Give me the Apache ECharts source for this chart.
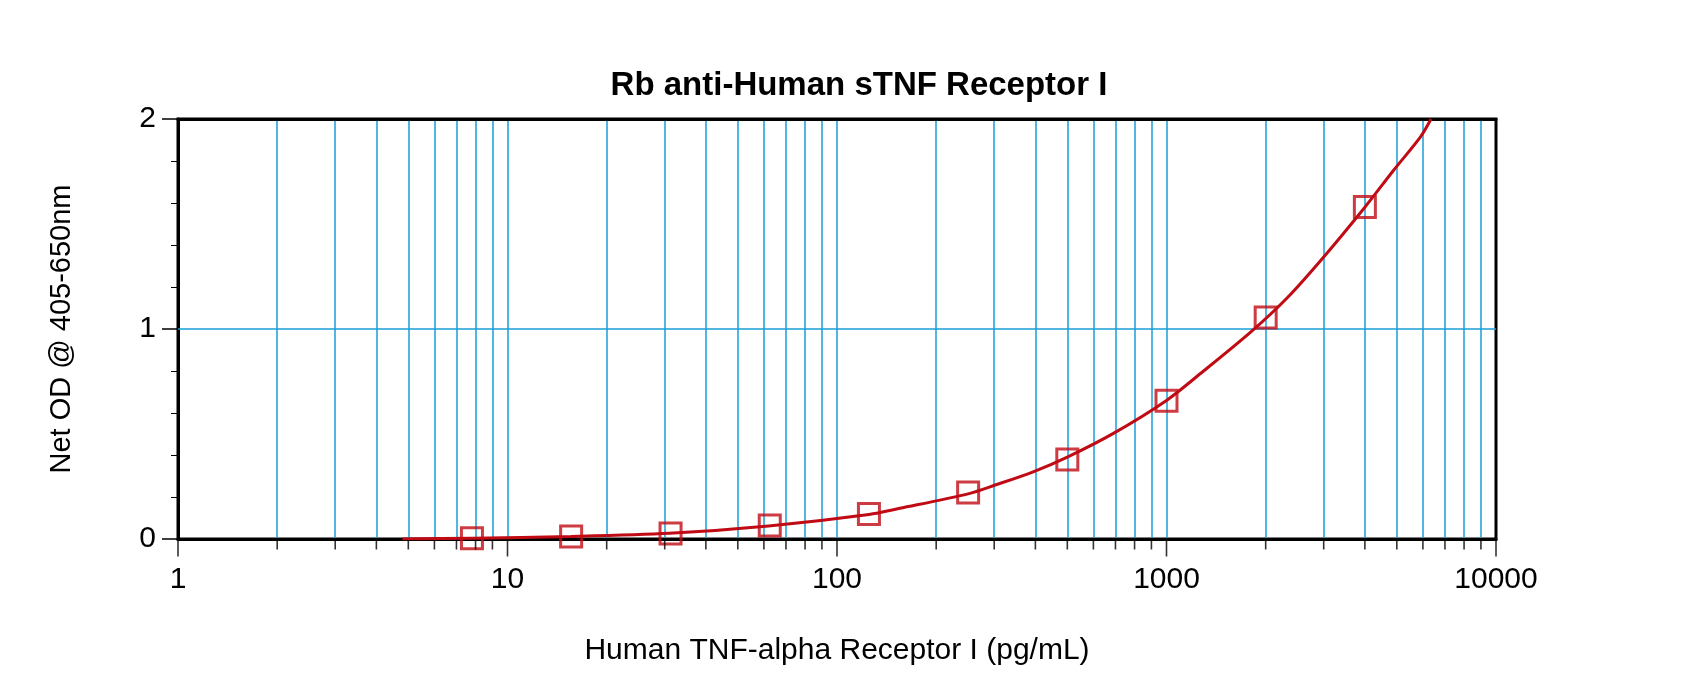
<!DOCTYPE html>
<html>
<head>
<meta charset="utf-8">
<script src="https://cdn.jsdelivr.net/npm/echarts@6/dist/echarts.min.js"></script>
<style>
  html, body { margin: 0; padding: 0; background: #fff; }
  #grafico { width: 1700px; height: 681px; }
</style>
</head>
<body>
<div id="grafico"></div>
<script>
// Standard points (pg/mL, net OD)
const concentrations = [7.8, 15.6, 31.25, 62.5, 125, 250, 500, 1000, 2000, 4000];
const odValues = [0.004, 0.012, 0.026, 0.064, 0.119, 0.221, 0.379, 0.658, 1.055, 1.581];

// Fitted curve
const curveX = [4.8, 7.8, 15.6, 31, 62, 125, 155, 250, 302, 394, 500, 690, 1000, 1268, 1800, 2330, 3000, 4000, 4890, 5900, 6350];
const curveY = [0, 0.004, 0.012, 0.027, 0.062, 0.117, 0.146, 0.215, 0.257, 0.320, 0.39, 0.503, 0.66, 0.788, 0.985, 1.15, 1.343, 1.58, 1.756, 1.915, 2.0];

// Log-axis decades and in-between grid values
const decadeTicks = [1, 10, 100, 1000, 10000];
const minorTicks = [];
[1, 10, 100, 1000].forEach(d => {
    for (let k = 2; k <= 9; k++) minorTicks.push(k * d);
});
const gridValues = minorTicks.concat([10, 100, 1000]).sort((a, b) => a - b);

const red = '#c00a14';
const blue = '#1a9ed6';
const font = 'Liberation Sans, Arial, sans-serif';

const chartDom = document.getElementById('grafico');
const myChart = echarts.init(chartDom);

// tick marks below the x axis, placed through the log scale
const tickSeries = (values, len) => ({
    type: 'scatter',
    xAxisIndex: 0,
    data: values.map(v => [v, 0]),
    symbol: 'rect',
    symbolSize: [1.6, len],
    symbolOffset: [0, len / 2 + 1.5],
    itemStyle: { color: '#000' },
    clip: false,
    silent: true,
    z: 5
});

const option = {
    backgroundColor: '#fff',
    animation: false,
    title: {
        text: 'Rb anti-Human sTNF Receptor I',
        left: 854,
        top: 64,
        textAlign: 'center',
        textStyle: { fontFamily: font, fontSize: 33, fontWeight: 'bold', color: '#000' }
    },
    grid: {
        left: 178, right: 204, top: 119, bottom: 142,
        show: true, borderColor: '#000', borderWidth: 3, backgroundColor: 'transparent'
    },
    xAxis: [
        {
            type: 'log', logBase: 10, min: 1, max: 10000,
            name: 'Human TNF-alpha Receptor I (pg/mL)',
            nameLocation: 'middle', nameGap: 97,
            nameTextStyle: { fontFamily: font, fontSize: 30, color: '#000' },
            axisLine: { show: true, lineStyle: { color: '#000', width: 3 } },
            axisTick: { show: false },
            axisLabel: {
                customValues: decadeTicks,
                formatter: v => String(Math.round(v)),
                fontFamily: font, fontSize: 30, color: '#000', margin: 26
            },
            splitLine: { show: false }
        },
        {
            type: 'log', logBase: 10, min: 1, max: 10000,
            position: 'top',
            axisLine: { show: true, lineStyle: { color: '#000', width: 3 } },
            axisTick: { show: false, customValues: gridValues },
            axisLabel: { show: false },
            splitLine: { show: true, lineStyle: { color: blue, width: 1.5 } }
        }
    ],
    yAxis: {
        type: 'value', min: 0, max: 2, interval: 1,
        name: 'Net OD @ 405-650nm',
        nameLocation: 'middle', nameGap: 102, nameRotate: 90,
        nameTextStyle: { fontFamily: font, fontSize: 29, color: '#000' },
        axisLine: { show: true, lineStyle: { color: '#000', width: 3 } },
        axisTick: { show: true, length: 16, lineStyle: { color: '#000', width: 1.5 } },
        minorTick: { show: true, splitNumber: 5, length: 7, lineStyle: { color: '#000', width: 1 } },
        axisLabel: { fontFamily: font, fontSize: 30, color: '#000', margin: 22 },
        splitLine: { show: false }
    },
    series: [
        {
            type: 'line',
            xAxisIndex: 0,
            data: curveX.map((x, i) => [x, curveY[i]]),
            smooth: 0.3,
            showSymbol: false,
            lineStyle: { color: red, width: 3 },
            markLine: {
                silent: true,
                symbol: 'none',
                label: { show: false },
                lineStyle: { color: blue, width: 1.5, type: 'solid' },
                data: [{ yAxis: 1 }],
                z: 1
            },
            z: 3
        },
        {
            type: 'scatter',
            xAxisIndex: 0,
            data: concentrations.map((x, i) => [x, odValues[i]]),
            symbol: 'rect',
            symbolSize: 21,
            itemStyle: { color: 'transparent', borderColor: red, borderWidth: 3 },
            z: 4
        },
        tickSeries(decadeTicks, 16),
        tickSeries(minorTicks, 9)
    ]
};

option && myChart.setOption(option);

window.addEventListener('resize', () => {
    myChart.resize();
});
</script>
</body>
</html>
